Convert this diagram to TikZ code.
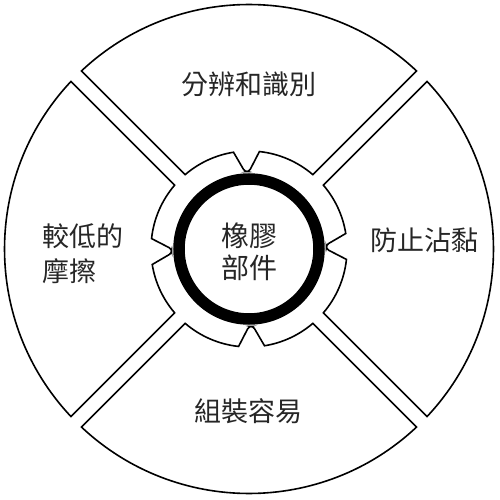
\documentclass[tikz,border=0pt]{standalone}
\usepackage{fontspec}
\newfontfamily\cjk{Noto Sans CJK TC}
\begin{document}
\begin{tikzpicture}[x=1pt,y=1pt,
  sectorline/.style={draw=black,line width=1.6pt,fill=white,line join=miter},
  label/.style={font=\cjk\fontsize{27}{35}\selectfont,text=black!85,inner sep=0pt,align=center},
  hublabel/.style={font=\cjk\fontsize{28}{32}\selectfont,text=black!85,inner sep=0pt,align=center}]
\useasboundingbox (-249,-251) rectangle (251,249);
\fill[white] (-249,-251) rectangle (251,249);
% four sectors separated by gaps, each with a notch on its inner arc
\foreach \c in {90,180,270,0}{
  \path[sectorline]
    ({\c-45+1.758}:244.5) arc[start angle={\c-45+1.758},end angle={\c+45-1.758},radius=244.5]
    -- ({\c+45-4.39}:98) arc[start angle={\c+45-4.39},end angle={\c+1.5+7.6},radius=98]
    [rounded corners=2.5pt] -- ({\c+1.5+1.6}:77.5) -- ({\c+1.5-1.6}:77.5) [sharp corners]
    -- ({\c+1.5-7.6}:98) arc[start angle={\c+1.5-7.6},end angle={\c-45+4.39},radius=98]
    -- cycle;
}
% thick hub ring
\draw[line width=11.5pt] (0,0) circle[radius=70];
\node[hublabel] (hub) at (0.5,-3) {橡膠\\部件};
\node[label] (top) at (0,165) {分辨和識別};
\node[label] (right) at (175,9) {防止沾黏};
\node[label] (bottom) at (-1,-162) {組裝容易};
\node[label,align=left,anchor=west] (left) at (-207,-4.5) {較低的\\摩擦};
\end{tikzpicture}
\end{document}
